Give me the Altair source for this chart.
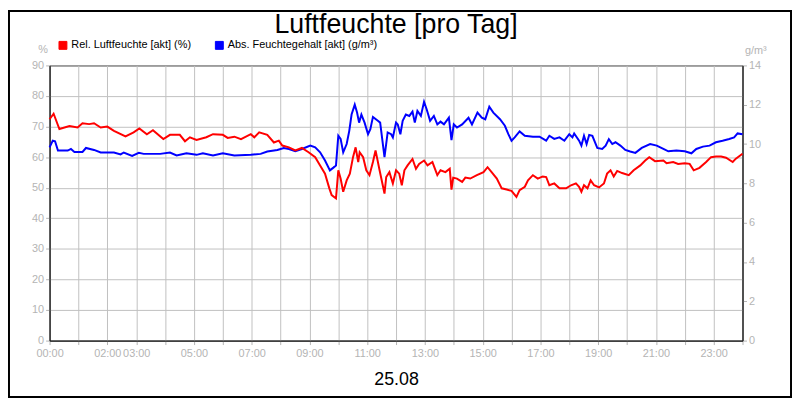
import altair as alt
import pandas as pd

SER_REL = "Rel. Luftfeuchte [akt] (%)"
SER_ABS = "Abs. Feuchtegehalt [akt] (g/m³)"

rel_t = [0.00,0.14,0.34,0.69,0.97,1.14,1.37,1.54,1.77,2.00,2.23,2.63,2.91,3.11,3.37,3.58,3.94,4.17,4.51,4.69,
         4.86,5.09,5.43,5.66,6.00,6.17,6.40,6.63,6.97,7.09,7.26,7.54,7.77,7.94,8.06,8.29,8.51,8.74,8.97,9.20,
         9.37,9.54,9.69,9.77,9.92,10.00,10.08,10.17,10.29,10.40,10.51,10.60,10.69,10.74,10.86,10.97,11.08,11.20,11.29,11.43,
         11.60,11.66,11.77,11.89,12.00,12.11,12.20,12.29,12.40,12.57,12.69,12.80,12.97,13.09,13.26,13.43,13.54,13.71,13.86,13.92,
         13.98,14.11,14.29,14.40,14.57,14.80,15.03,15.17,15.31,15.49,15.66,15.83,16.00,16.17,16.28,16.46,16.57,16.74,16.91,17.08,
         17.20,17.31,17.48,17.66,17.89,18.06,18.23,18.34,18.42,18.51,18.63,18.74,18.86,19.03,19.20,19.31,19.43,19.54,19.66,19.83,
         20.06,20.23,20.46,20.63,20.77,20.97,21.26,21.37,21.60,21.77,22.00,22.17,22.31,22.51,22.74,22.91,23.08,23.26,23.43,23.66,
         23.77,24.00]
rel_v = [72.4,74.2,69.2,70.2,69.7,71.1,70.8,71.1,69.7,70.0,68.6,66.8,68.1,69.4,67.5,68.8,65.9,67.3,67.3,65.2,
         66.5,65.6,66.5,67.5,67.3,66.3,66.7,65.9,67.5,66.5,68.1,67.3,64.8,65.4,63.8,63.2,62.2,63.0,61.6,60.0,
         57.3,54.6,49.8,47.6,46.5,55.7,53.0,48.7,52.4,54.6,60.0,63.2,58.4,61.6,60.0,55.7,54.1,58.4,62.2,55.7,
         48.1,53.5,55.1,51.4,55.7,54.6,50.8,55.7,57.3,59.4,56.2,57.8,58.9,57.3,58.4,54.1,55.7,55.1,56.2,49.4,
         53.3,53.0,51.9,53.3,53.0,54.1,55.1,56.7,55.1,53.0,49.8,49.4,49.0,47.0,49.2,50.3,52.4,54.1,53.0,53.7,
         53.5,50.8,51.4,49.8,49.8,50.8,51.4,50.3,48.7,50.8,49.8,52.4,50.8,50.1,51.4,54.6,55.7,53.7,55.5,54.8,
         54.1,55.7,57.3,58.9,60.0,58.7,58.9,58.0,58.4,57.8,58.0,57.8,55.7,56.5,58.4,60.0,60.2,60.2,59.8,58.4,
         59.5,61.1]

abs_t = [0.00,0.11,0.19,0.29,0.63,0.74,0.86,1.14,1.26,1.54,1.77,2.23,2.46,2.57,2.86,3.09,3.26,3.83,4.17,4.40,
         4.74,5.09,5.31,5.66,6.00,6.40,6.97,7.31,7.54,7.89,8.11,8.29,8.51,8.74,9.03,9.20,9.37,9.54,9.71,9.83,
         9.92,10.00,10.08,10.17,10.29,10.38,10.46,10.57,10.65,10.72,10.80,10.91,11.03,11.11,11.20,11.37,11.45,11.60,11.71,11.83,
         11.89,12.00,12.06,12.15,12.23,12.34,12.46,12.57,12.65,12.74,12.86,12.97,13.06,13.18,13.31,13.43,13.54,13.66,13.83,13.92,
         14.00,14.11,14.29,14.51,14.63,14.82,14.97,15.09,15.23,15.37,15.60,15.77,15.89,16.00,16.11,16.28,16.46,16.74,16.97,17.20,
         17.31,17.48,17.66,17.83,18.00,18.11,18.17,18.34,18.42,18.51,18.60,18.69,18.80,18.97,19.14,19.26,19.37,19.49,19.60,19.77,
         19.94,20.11,20.29,20.51,20.80,21.03,21.26,21.43,21.71,22.00,22.23,22.40,22.63,22.86,23.08,23.31,23.54,23.71,23.83,24.00]
abs_v = [9.83,10.17,10.14,9.67,9.67,9.75,9.60,9.60,9.80,9.70,9.57,9.57,9.47,9.57,9.40,9.55,9.50,9.50,9.57,9.42,
         9.53,9.45,9.53,9.42,9.53,9.42,9.45,9.50,9.62,9.70,9.80,9.75,9.63,9.75,9.92,9.83,9.58,9.16,8.66,8.80,
         8.91,10.42,10.26,9.58,10.00,10.67,11.50,12.00,11.60,11.09,11.50,11.09,10.50,10.76,11.38,11.18,11.09,9.33,10.59,10.50,
         10.34,11.09,11.00,10.50,11.18,11.50,11.43,11.65,11.09,11.68,11.43,12.15,11.77,11.18,11.43,11.00,11.14,11.00,11.34,10.20,
         11.00,10.84,11.00,11.34,11.00,11.60,11.34,11.26,11.90,11.60,11.26,10.93,10.50,10.17,10.34,10.64,10.42,10.37,10.37,10.17,
         10.42,10.26,10.34,10.17,10.50,10.34,10.54,10.17,9.92,10.42,10.00,10.46,10.42,9.80,9.75,9.92,10.25,10.00,10.09,9.92,
         9.70,9.62,9.55,9.80,10.00,9.92,9.75,9.63,9.67,9.63,9.53,9.75,9.87,9.92,10.09,10.17,10.26,10.34,10.54,10.50]

x_ticks = list(range(0, 25))
x_labels = [0, 2, 3, 5, 7, 9, 11, 13, 15, 17, 19, 21, 23]
left_ticks = list(range(0, 91, 10))
right_ticks = list(range(0, 15, 2))
series_names = [SER_REL, SER_ABS]
series_colors = ["#ff0000", "#0000ff"]

FONT = "Liberation Sans"
GRAY = "#b4b4b4"
GRID = "#c0c0c0"

df_rel = pd.DataFrame({"t": rel_t, "v": rel_v, "s": SER_REL})
df_abs = pd.DataFrame({"t": abs_t, "v": abs_v, "s": SER_ABS})
df_leg = pd.DataFrame({"s": series_names})

label_expr = ("indexof([" + ",".join(str(v) for v in x_labels) + "], datum.value) >= 0 ? "
              "(datum.value < 10 ? '0' : '') + datum.value + ':00' : ''")

x_enc = alt.X(
    "t:Q",
    scale=alt.Scale(domain=[0, 24], nice=False, zero=False),
    axis=alt.Axis(
        values=x_ticks, labelExpr=label_expr, labelOverlap=False, labelFlush=False,
        grid=True, gridColor=GRID, gridWidth=1, tickColor=GRAY, tickSize=4,
        domainColor="black", labelColor=GRAY, labelFont=FONT, labelFontSize=11, labelPadding=3,
        title="25.08", titleFont=FONT, titleFontSize=18, titleFontWeight="normal",
        titleColor="black", titlePadding=12,
    ),
)

line_scale = alt.Scale(domain=series_names, range=series_colors)
fill_scale = alt.Scale(domain=series_names, range=series_colors)

legend_layer = alt.Chart(df_leg).transform_filter("false").mark_point(
    shape="square", filled=True, size=64, opacity=1, stroke="black", strokeWidth=1
).encode(
    fill=alt.Fill(
        "s:N", scale=fill_scale,
        legend=alt.Legend(
            orient="none", legendX=8, legendY=-26, direction="horizontal", title=None,
            symbolType="square", symbolSize=64, labelFont=FONT, labelFontSize=11,
            labelColor="black", labelOffset=3, columnPadding=21, padding=0,
            symbolStrokeColor="black", symbolStrokeWidth=1, symbolOpacity=1,
        ),
    )
)

rel_line = alt.Chart(df_rel).mark_line(strokeWidth=2).encode(
    x=x_enc,
    y=alt.Y("v:Q", scale=alt.Scale(domain=[0, 90], nice=False),
            axis=alt.Axis(orient="left", values=left_ticks, grid=True, gridColor=GRID,
                          tickColor=GRAY, tickSize=4, domainColor="black",
                          labelColor=GRAY, labelFont=FONT, labelFontSize=11, labelPadding=2,
                          title="%", titleAngle=0, titleAlign="center", titleBaseline="bottom",
                          titleX=-7, titleY=-11, titleColor=GRAY, titleFont=FONT,
                          titleFontSize=11, titleFontWeight="normal")),
    stroke=alt.Stroke("s:N", scale=line_scale, legend=None),
)

abs_line = alt.Chart(df_abs).mark_line(strokeWidth=2).encode(
    x=x_enc,
    y=alt.Y("v:Q", scale=alt.Scale(domain=[0, 14], nice=False),
            axis=alt.Axis(orient="right", values=right_ticks, grid=False,
                          tickColor=GRAY, tickSize=4, domainColor="black",
                          labelColor=GRAY, labelFont=FONT, labelFontSize=11, labelPadding=2,
                          title="g/m³", titleAngle=0, titleAlign="center", titleBaseline="bottom",
                          titleX=13, titleY=-10, titleColor=GRAY, titleFont=FONT,
                          titleFontSize=11, titleFontWeight="normal")),
    stroke=alt.Stroke("s:N", scale=line_scale, legend=None),
)

frame = alt.Chart(pd.DataFrame({"a": [0]})).mark_rect(
    fillOpacity=0, stroke="black", strokeWidth=2
).encode(
    x=alt.value(-41), x2=alt.value(749), y=alt.value(-55), y2=alt.value(335)
)

chart = (
    alt.layer(legend_layer, abs_line, rel_line, frame)
    .resolve_scale(y="independent")
    .properties(
        width=700, height=278,
        padding={"left": 42, "top": 56, "right": 50, "bottom": 58},
        autosize=alt.AutoSizeParams(type="none"),
        title=alt.TitleParams("Luftfeuchte [pro Tag]", font=FONT, fontSize=27,
                              fontWeight="normal", color="black", anchor="middle",
                              frame="group", offset=-29),
        background="white",
    )
    .configure_view(stroke="black", strokeWidth=1)
)

chart.save("out.html", embed_options={"renderer": "svg", "actions": False})
